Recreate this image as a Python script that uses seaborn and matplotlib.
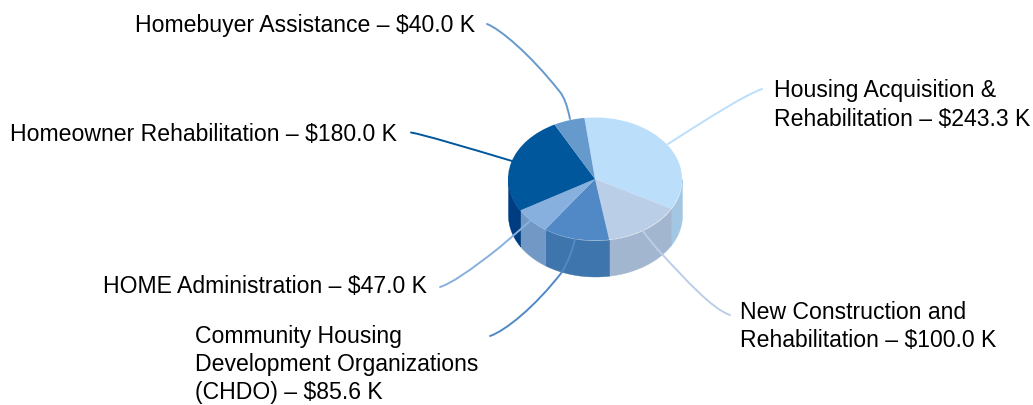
import numpy as np
import matplotlib
matplotlib.use("Agg")
import matplotlib.pyplot as plt
from matplotlib.path import Path
from matplotlib.patches import PathPatch
import seaborn as sns

# Data
programs = ["Housing Acquisition &\nRehabilitation – $243.3 K",
            "New Construction and\nRehabilitation – $100.0 K",
            "Community Housing\nDevelopment Organizations\n(CHDO) – $85.6 K",
            "HOME Administration – $47.0 K",
            "Homeowner Rehabilitation – $180.0 K",
            "Homebuyer Assistance – $40.0 K"]
amounts = [243.3, 100.0, 85.6, 47.0, 180.0, 40.0]
top_colors = ["#BBDEFB", "#BBCEE8", "#5089C6", "#88B0DE", "#01579B", "#6699CC"]
side_colors = ["#A3C6E2", "#A3B6CF", "#3E75AC", "#7299C5", "#003C82", "#5080B0"]

sns.set_theme(style="white")
plt.rcParams['font.family'] = ['Liberation Sans', 'DejaVu Sans']

W, H = 1033, 406
fig = plt.figure(figsize=(W / 100, H / 100), dpi=100, facecolor="white")

# Pie geometry in pixels
cx, cy, rx, ry, depth = 595, 180, 87, 61.5, 36
start = 97

ax = fig.add_axes([0, 0, 1, 1])
wedges, _ = ax.pie(amounts, colors=top_colors, startangle=start, counterclock=False,
                   radius=1, wedgeprops=dict(linewidth=0, zorder=3))
ax.set_aspect("auto")
ax.set_xlim(-cx / rx, (W - cx) / rx)
ax.set_ylim((cy - H) / ry, cy / ry)
ax.axis("off")

# Side wall of the pie, derived from the same values
edges = start - np.cumsum([0] + amounts) / sum(amounts) * 360
d = depth / ry
for a0, a1, c in zip(edges[:-1], edges[1:], side_colors):
    for shift in (0, -360):
        lo, hi = max(a1 + shift, -180), min(a0 + shift, 0)
        if hi > lo:
            t = np.radians(np.linspace(lo, hi, 80))
            ax.fill_between(np.cos(t), np.sin(t), np.sin(t) - d, color=c, linewidth=0.3, zorder=2)

# Overlay in pixel coordinates for leaders and labels
ov = fig.add_axes([0, 0, 1, 1], facecolor="none")
ov.set_xlim(0, W)
ov.set_ylim(H, 0)
ov.axis("off")

M, C3, C4, L = Path.MOVETO, Path.CURVE3, Path.CURVE4, Path.LINETO
leaders = [
    ([(668, 145), (710, 118), (745, 96), (762, 90)], [M, C4, C4, C4], top_colors[0]),
    ([(643, 232), (650, 242), (660, 253), (685, 280), (712, 310), (730, 316)], [M, C3, C3, C4, C4, C4], top_colors[1]),
    ([(575, 240), (571, 258), (562, 273), (535, 308), (505, 332), (490, 337)], [M, C3, C3, C4, C4, C4], top_colors[2]),
    ([(530, 222), (513, 237), (500, 248), (470, 272), (450, 285), (440, 288)], [M, C3, C3, C4, C4, C4], top_colors[3]),
    ([(512, 162), (465, 148), (425, 136), (411, 133.5)], [M, C4, C4, C4], top_colors[4]),
    ([(570, 120), (566, 100), (560, 93), (530, 55), (500, 30), (487, 25)], [M, C3, C3, C4, C4, C4], top_colors[5]),
]
for verts, codes, c in leaders:
    ov.add_patch(PathPatch(Path(verts, codes), fill=False, edgecolor=c, linewidth=1.4, capstyle="round"))

label_pos = [(774, 105), (740, 326.5), (195, 364.5), (103, 286.5), (10, 134.5), (135, 25.5)]
for txt, (x, y) in zip(programs, label_pos):
    ov.text(x, y, txt, ha="left", va="center", fontsize=16.6, color="black", linespacing=1.29)

fig.savefig("out.png", dpi=100, facecolor="white")
